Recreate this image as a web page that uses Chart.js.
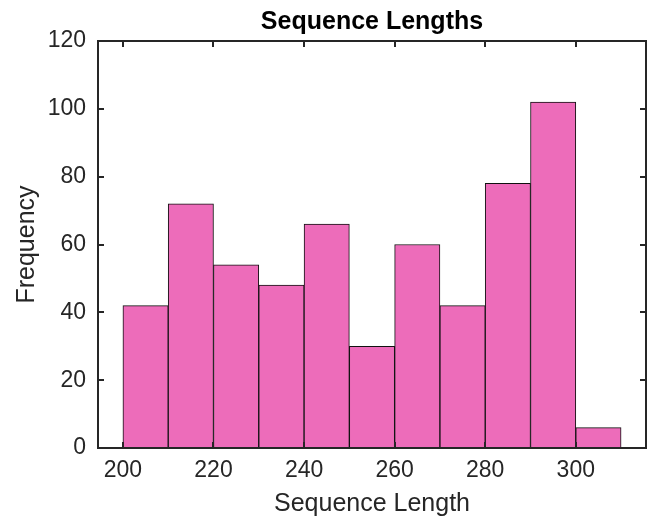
<!DOCTYPE html>
<html>
<head>
<meta charset="utf-8">
<script src="https://cdn.jsdelivr.net/npm/chart.js@4"></script>
<style>
  html, body { margin: 0; padding: 0; background: #fff; }
  #wrap { width: 656px; height: 516px; }
</style>
</head>
<body>
<div id="wrap"><canvas id="histChart" width="656" height="516"></canvas></div>
<script>
// histogram bins (width 10) and counts
const binCenters = [205, 215, 225, 235, 245, 255, 265, 275, 285, 295, 305]
const counts = [42, 72, 54, 48, 66, 30, 60, 42, 78, 102, 6]
const xTicks = [200, 220, 240, 260, 280, 300]
const yTicks = [0, 20, 40, 60, 80, 100, 120]

const FONT = "'Liberation Sans', Arial, Helvetica, sans-serif"
const AXIS_COLOR = '#262626'

// matlab-like box with inward ticks on all four sides
const boxAxes = {
  id: 'boxAxes',
  afterDatasetsDraw(chart) {
    const { ctx, chartArea: { left, right, top, bottom }, scales: { x, y } } = chart
    const len = 6
    ctx.save()
    ctx.strokeStyle = AXIS_COLOR
    ctx.lineWidth = 2
    ctx.beginPath()
    xTicks.forEach((v) => {
      const px = Math.round(x.getPixelForValue(v))
      ctx.moveTo(px, bottom); ctx.lineTo(px, bottom - len)
      ctx.moveTo(px, top); ctx.lineTo(px, top + len)
    })
    yTicks.forEach((v) => {
      const py = Math.round(y.getPixelForValue(v))
      ctx.moveTo(left, py); ctx.lineTo(left + len, py)
      ctx.moveTo(right, py); ctx.lineTo(right - len, py)
    })
    ctx.stroke()
    ctx.strokeRect(left, top, right - left, bottom - top)
    ctx.restore()
  }
}

new Chart(document.getElementById('histChart'), {
  type: 'bar',
  data: {
    datasets: [{
      label: 'Frequency',
      data: binCenters.map((c, i) => ({ x: c, y: counts[i] })),
      backgroundColor: '#ed6cba',
      borderColor: '#111',
      borderWidth: 1,
      borderSkipped: false,
      barPercentage: 1,
      categoryPercentage: 1
    }]
  },
  options: {
    responsive: false,
    animation: false,
    devicePixelRatio: 1,
    layout: { padding: { left: 0, right: 10, top: 0, bottom: 0 } },
    plugins: {
      legend: { display: false },
      tooltip: { enabled: false },
      title: {
        display: true,
        fullSize: false, // center over the plot area, not the canvas
        text: 'Sequence Lengths',
        color: '#000',
        font: { family: FONT, size: 25, weight: 'bold', lineHeight: 1.2 },
        padding: { top: 7, bottom: 4 }
      }
    },
    scales: {
      x: {
        type: 'linear',
        min: 194.5,
        max: 315.5,
        offset: false,
        grid: { display: false, drawTicks: false },
        border: { display: false },
        afterBuildTicks: (scale) => { scale.ticks = xTicks.map((v) => ({ value: v })) },
        afterFit: (scale) => { scale.height = 68 },
        ticks: { color: AXIS_COLOR, padding: 9, font: { family: FONT, size: 23 }, maxRotation: 0 },
        title: {
          display: true,
          text: 'Sequence Length',
          color: AXIS_COLOR,
          font: { family: FONT, size: 25, lineHeight: 1.2 },
          padding: { top: 0, bottom: -3 }
        }
      },
      y: {
        min: 0,
        max: 120,
        grid: { display: false, drawTicks: false },
        border: { display: false },
        afterBuildTicks: (scale) => { scale.ticks = yTicks.map((v) => ({ value: v })) },
        afterFit: (scale) => { scale.width = 98 },
        ticks: { color: AXIS_COLOR, padding: 12, font: { family: FONT, size: 23 } },
        title: {
          display: true,
          text: 'Frequency',
          color: AXIS_COLOR,
          font: { family: FONT, size: 25, lineHeight: 1.2 },
          padding: { top: 12, bottom: 0 }
        }
      }
    }
  },
  plugins: [boxAxes]
})
</script>
</body>
</html>
